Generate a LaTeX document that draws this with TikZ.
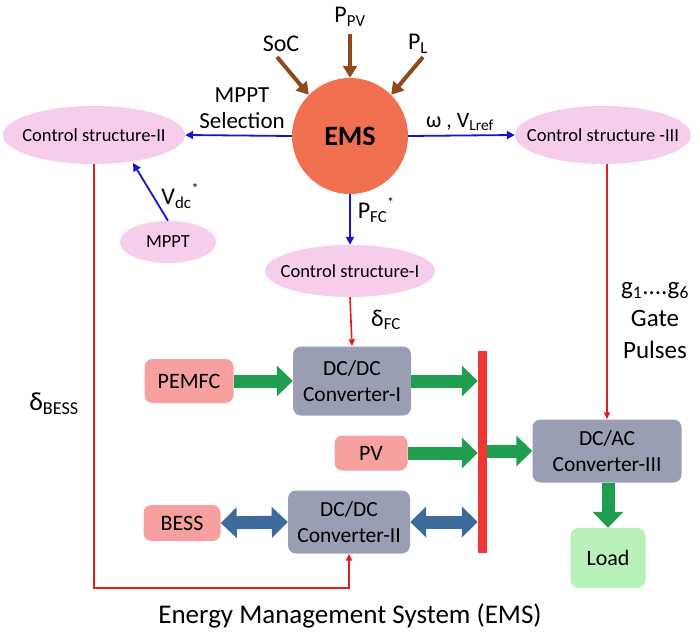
\documentclass[tikz,border=0pt]{standalone}
\usepackage{fontspec}
\setmainfont{Carlito}
\usetikzlibrary{arrows.meta,shapes.geometric}
\definecolor{emsc}{HTML}{F07050}
\definecolor{ellc}{HTML}{F6CDEB}
\definecolor{srcc}{HTML}{F6A0A0}
\definecolor{convc}{HTML}{9A9EB2}
\definecolor{loadc}{HTML}{B9F2B9}
\definecolor{grn}{HTML}{1E9E4E}
\definecolor{bdir}{HTML}{3E6A9C}
\definecolor{busr}{HTML}{F03535}
\definecolor{brn}{HTML}{8E4A1C}
\definecolor{blu}{HTML}{1515CC}
\definecolor{redl}{HTML}{E02020}
\tikzset{
  ctrl/.style={ellipse, fill=ellc, inner sep=0pt},
  ctrltext/.style={font=\fontsize{18.5}{21}\selectfont},
  src/.style={rounded corners=8pt, fill=srcc, font=\fontsize{22}{25}\selectfont, align=center},
  conv/.style={rounded corners=8pt, fill=convc, font=\fontsize{21.5}{26}\selectfont, align=center},
  brarrow/.style={draw=brn, line width=4pt, -{Triangle[length=12pt,width=14pt]}},
  bluarrow/.style={draw=blu, line width=1.8pt, -{Triangle[length=8pt,width=8pt]}},
  redarrow/.style={draw=redl, line width=1.6pt, -{Triangle[length=7pt,width=6pt]}},
  fat/.style={draw=grn, line width=13pt, -{Triangle[length=16pt,width=30pt]}},
  dbl/.style={draw=bdir, line width=13pt, {Triangle[length=16pt,width=30pt]}-{Triangle[length=16pt,width=30pt]}},
  lbl/.style={font=\fontsize{24}{28}\selectfont, align=center},
}
\begin{document}
\begin{tikzpicture}[x=1pt,y=-1pt]
\useasboundingbox (0,0) rectangle (700,636);
% EMS
\node[circle, fill=emsc, minimum size=116pt, inner sep=0pt, font=\bfseries\fontsize{28}{31}\selectfont] (ems) at (350,136) {EMS};
% inputs
\node[lbl] (soc) at (281,44) {SoC};
\node[lbl] (ppv) at (350,17) {P\textsubscript{PV}};
\node[lbl] (pl) at (418,44) {P\textsubscript{L}};
\coordinate (socs) at (277,57);
\coordinate (ppvs) at (350,34);
\coordinate (pls) at (423,57);
\draw[brarrow] (socs) -- (ems.135);
\draw[brarrow] (ppvs) -- (ems.north);
\draw[brarrow] (pls) -- (ems.45);
% control ellipses
\node[ctrl, minimum width=182pt, minimum height=58pt, label={[ctrltext]center:Control structure-II}] (cs2) at (94,135) {};
\node[ctrl, minimum width=176pt, minimum height=58pt, label={[ctrltext]center:Control structure -III}] (cs3) at (603,135) {};
\node[ctrl, minimum width=96pt, minimum height=42pt, label={[ctrltext]center:MPPT}] (mppt) at (168,242) {};
\node[ctrl, minimum width=170pt, minimum height=52pt, label={[ctrltext]center:Control structure-I}] (cs1) at (350,271) {};
% blue arrows
\draw[bluarrow] (ems.west) -- (cs2.east);
\draw[bluarrow] (ems.east) -- (cs3.west);
\draw[bluarrow] (ems.south) -- (cs1.north);
\coordinate (csin) at (133,163);
\draw[bluarrow] (mppt.north) -- (csin);
\node[lbl, font=\fontsize{23}{27}\selectfont] (msel) at (242,108) {MPPT\\[-1pt]Selection};
\node[lbl, font=\fontsize{22}{26}\selectfont] (omega) at (460,122) {ω , V\textsubscript{Lref}};
\node[lbl] (vdc) at (180,196) {V\textsubscript{dc}\raisebox{11pt}{\fontsize{14}{14}\selectfont *}};
\node[lbl] (pfc) at (376,210) {P\textsubscript{FC}\raisebox{11pt}{\fontsize{14}{14}\selectfont *}};
% power blocks
\node[src, minimum width=89pt, minimum height=44pt] (pemfc) at (189,381) {PEMFC};
\node[conv, minimum width=118pt, minimum height=69pt] (c1) at (352,381) {DC/DC\\Converter-I};
\node[src, minimum width=73pt, minimum height=35pt] (pv) at (371,453) {PV};
\node[src, minimum width=77pt, minimum height=36pt] (bess) at (182,523) {BESS};
\node[conv, minimum width=122pt, minimum height=63pt] (c2) at (349,522) {DC/DC\\Converter-II};
\node[conv, minimum width=149pt, minimum height=63pt] (c3) at (607,451) {DC/AC\\Converter-III};
\node[rounded corners=8pt, fill=loadc, minimum width=75pt, minimum height=60pt, font=\fontsize{22}{25}\selectfont] (load) at (608,558) {Load};
% bus
\node[fill=busr, minimum width=9pt, minimum height=202pt, inner sep=0pt] (bus) at (482.5,452) {};
% red control lines
\draw[redarrow] (cs1.south) -- (c1.north);
\node[lbl] (dfc) at (386,320) {δ\textsubscript{FC}};
\draw[redarrow] (cs3.south -| c3.north) -- (c3.north);
\node[lbl, font=\fontsize{25}{32}\selectfont] (gp) at (655,321) {g\textsubscript{1}....g\textsubscript{6}\\Gate\\Pulses};
\coordinate (lb) at (94,588);
\coordinate (rb) at (349,588);
\draw[redarrow] (cs2.south) -- (lb) -- (rb) -- (c2.south);
\node[lbl, font=\fontsize{26}{28}\selectfont] (dbess) at (54,404) {δ\textsubscript{BESS}};
% power arrows
\draw[fat] (pemfc.east) -- (c1.west);
\draw[fat] (c1.east) -- (c1.east -| bus.west);
\draw[fat] (pv.east) -- (pv.east -| bus.west);
\draw[fat] (bus.east |- c3.west) -- (c3.west);
\draw[fat] (c3.south -| load.north) -- (load.north);
\draw[dbl] (bess.east) -- (c2.west);
\draw[dbl] (c2.east) -- (c2.east -| bus.west);
% title
\node[font=\fontsize{27}{30}\selectfont] (title) at (350,616) {Energy Management System (EMS)};
\end{tikzpicture}
\end{document}
